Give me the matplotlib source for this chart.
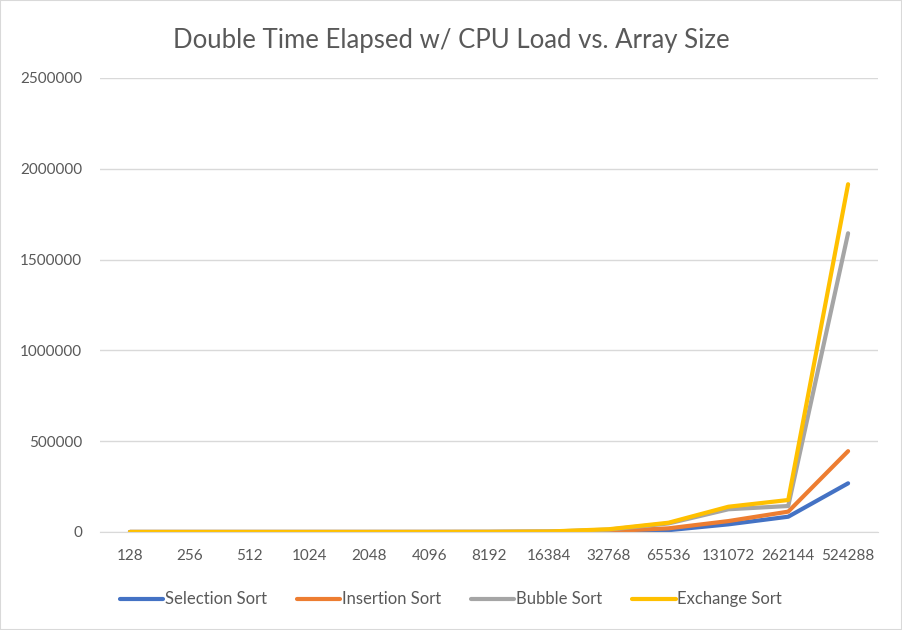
import matplotlib.pyplot as plt
from matplotlib.patches import Rectangle

# Array sizes (category axis)
sizes = ["128", "256", "512", "1024", "2048", "4096", "8192", "16384",
         "32768", "65536", "131072", "262144", "524288"]

# Elapsed time per sort
selection = [0, 0, 1, 3, 12, 50, 200, 800, 3000, 10000, 42000, 84000, 268000]
insertion = [0, 0, 1, 3, 12, 50, 200, 900, 5000, 20000, 60000, 112000, 445000]
bubble = [0, 1, 2, 8, 30, 120, 500, 2000, 13000, 47000, 125000, 143000, 1645000]
exchange = [0, 1, 2, 8, 30, 130, 550, 2500, 15000, 51000, 139000, 176000, 1915000]

series = [
    ("Selection Sort", selection, "#4472C4"),
    ("Insertion Sort", insertion, "#ED7D31"),
    ("Bubble Sort", bubble, "#A5A5A5"),
    ("Exchange Sort", exchange, "#FFC000"),
]

plt.rcParams['font.family'] = ['Lato', 'DejaVu Sans']
TEXT = "#595959"
GRID = "#d9d9d9"

fig = plt.figure(figsize=(9.02, 6.3), dpi=100)
ax = fig.add_axes([0.1109, 0.1556, 0.8625, 0.7206])

x = list(range(len(sizes)))
for name, vals, color in series:
    ax.plot(x, vals, color=color, lw=3, label=name,
            solid_capstyle='round', solid_joinstyle='round')

ax.set_xlim(-0.5, len(sizes) - 0.5)
ax.set_ylim(0, 2500000)
ax.set_yticks(range(0, 2500001, 500000))
ax.set_yticklabels([str(v) for v in range(0, 2500001, 500000)])
ax.set_xticks(x)
ax.set_xticklabels(sizes)
ax.grid(axis='y', color=GRID, lw=1)
ax.set_axisbelow(True)
for s in ['top', 'right', 'left']:
    ax.spines[s].set_visible(False)
ax.spines['bottom'].set_color(GRID)
ax.tick_params(axis='both', length=0, labelsize=11, labelcolor=TEXT)
ax.tick_params(axis='y', pad=13)
ax.tick_params(axis='x', pad=12)

fig.suptitle("Double Time Elapsed w/ CPU Load vs. Array Size",
             y=0.956, fontsize=18.5, color=TEXT)

fig.legend(loc='lower center', ncol=4, frameon=False, fontsize=12,
           labelcolor=TEXT, bbox_to_anchor=(0.5, 0.012),
           handlelength=2.6, handletextpad=0.1, columnspacing=1.8)

fig.patches.append(Rectangle((0, 0), 1, 1, transform=fig.transFigure,
                             fill=False, edgecolor=GRID, lw=1.5))

fig.savefig("out.png", dpi=100)
